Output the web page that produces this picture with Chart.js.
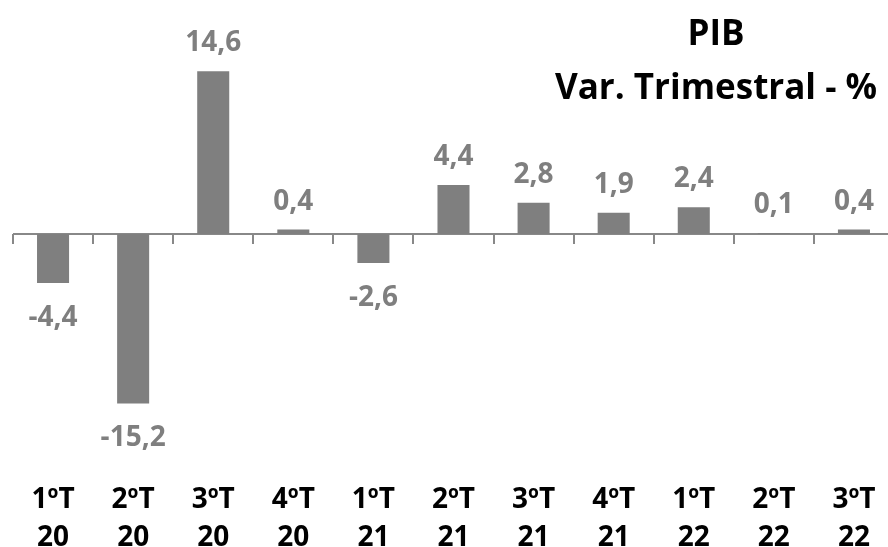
<!DOCTYPE html>
<html lang="pt">
<head>
<meta charset="utf-8">
<title>PIB - Var. Trimestral - %</title>
<script src="https://cdn.jsdelivr.net/npm/chart.js@4/dist/chart.umd.min.js"></script>
<style>
    html, body { margin: 0; padding: 0; background: #fff; overflow: hidden; }
    canvas { display: block; }
</style>
</head>
<body>
<canvas id="pibChart" width="900" height="547"></canvas>
<script>
// Data
const quarters = ['1ºT', '2ºT', '3ºT', '4ºT', '1ºT', '2ºT', '3ºT', '4ºT', '1ºT', '2ºT', '3ºT'];
const years = ['20', '20', '20', '20', '21', '21', '21', '21', '22', '22', '22'];
const pibValues = [-4.4, -15.2, 14.6, 0.4, -2.6, 4.4, 2.8, 1.9, 2.4, 0.1, 0.4];
const yMin = -20;
const yMax = 20;
const titleText = 'PIB';
const subtitleText = 'Var. Trimestral - %';

const initApp = () => {

    const FONT = '"Open Sans", "DejaVu Sans", sans-serif';
    const GREY = '#7f7f7f';

    // Axis line + tick marks at y = 0
    const zeroAxis = {
        id: 'zeroAxis',
        beforeDatasetsDraw(chart) {
            const { ctx, chartArea, scales: { x, y } } = chart;
            const zero = y.getPixelForValue(0);
            const half = (x.getPixelForValue(1) - x.getPixelForValue(0)) / 2;

            ctx.save();
            ctx.strokeStyle = '#888888';
            ctx.lineWidth = 2;
            ctx.beginPath();
            ctx.moveTo(chartArea.left, zero);
            ctx.lineTo(chartArea.right, zero);

            for (let i = 0; i <= quarters.length; i++) {
                const px = Math.round(x.getPixelForValue(i) - half);
                ctx.moveTo(px, zero);
                ctx.lineTo(px, zero + 10);
            }
            ctx.stroke();
            ctx.restore();
        }
    };

    // Value labels, category labels and title
    const textLayer = {
        id: 'textLayer',
        afterDatasetsDraw(chart) {
            const { ctx, scales: { x } } = chart;
            const meta = chart.getDatasetMeta(0);

            ctx.save();
            ctx.textAlign = 'center';
            ctx.textBaseline = 'alphabetic';

            // value labels
            ctx.fillStyle = GREY;
            ctx.font = 'bold 28px ' + FONT;
            meta.data.forEach((bar, i) => {
                const v = pibValues[i];
                const txt = v.toFixed(1).replace('.', ',');
                const ty = v >= 0 ? bar.y - 20 : bar.y + 43;
                ctx.fillText(txt, bar.x, ty);
            });

            // category labels (two lines)
            ctx.fillStyle = '#000';
            ctx.font = 'bold 28px ' + FONT;
            quarters.forEach((q, i) => {
                const px = x.getPixelForValue(i);
                ctx.fillText(q, px, 508);
                ctx.fillText(years[i], px, 546);
            });

            // title
            ctx.font = 'bold 35px ' + FONT;
            ctx.fillText(titleText, 716, 45);
            ctx.fillText(subtitleText, 716, 99);

            ctx.restore();
        }
    };

    let pibChart = document.getElementById('pibChart');

    if (pibChart) {
        const myPibChart = new Chart(pibChart, {
            type: 'bar',
            data: {
                labels: quarters.map((q, i) => [q, years[i]]),
                datasets: [{
                    label: 'PIB',
                    data: pibValues,
                    backgroundColor: GREY,
                    borderWidth: 0,
                    barPercentage: 0.4,
                    categoryPercentage: 1.0
                }]
            },
            options: {
                responsive: false,
                animation: false,
                layout: {
                    padding: { left: 13, right: 6, top: 11, bottom: 90 }
                },
                plugins: {
                    legend: { display: false },
                    tooltip: { enabled: false }
                },
                scales: {
                    x: { display: false },
                    y: { display: false, min: yMin, max: yMax }
                }
            },
            plugins: [zeroAxis, textLayer]
        });
    }
}

document.addEventListener('DOMContentLoaded', initApp);
</script>
</body>
</html>
